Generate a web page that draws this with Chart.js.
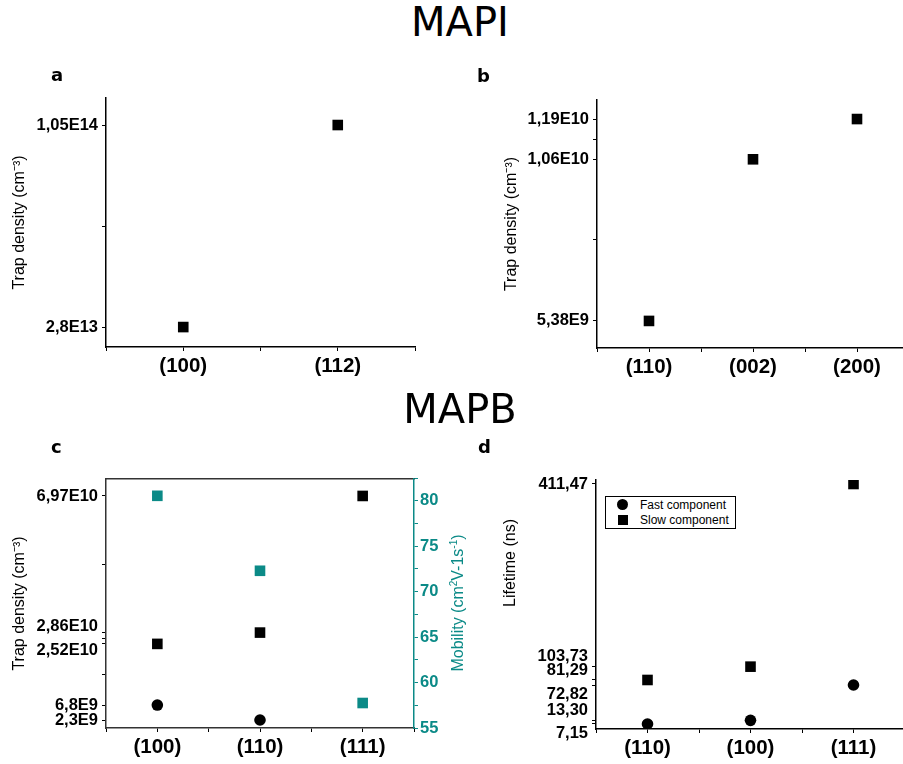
<!DOCTYPE html>
<html>
<head>
<meta charset="utf-8">
<title>MAPI / MAPB</title>
<script src="https://cdn.jsdelivr.net/npm/chart.js@4.4.1/dist/chart.umd.min.js"></script>
<style>
	html, body { margin: 0; padding: 0; background: #fff; }
	body { position: relative; width: 903px; height: 764px; overflow: hidden; font-family: 'Liberation Sans', Arial, sans-serif; }
	canvas { position: absolute; }
	.big { position: absolute; width: 200px; text-align: center; font-family: 'DejaVu Sans', sans-serif; font-size: 40px; line-height: 40px; color: #000; }
	.tag { position: absolute; font-family: 'DejaVu Sans', sans-serif; font-weight: bold; font-size: 18px; line-height: 18px; color: #000; }
	.vtitle { position: absolute; width: 200px; height: 20px; line-height: 20px; text-align: center; font-size: 16px; transform: rotate(-90deg); transform-origin: 50% 50%; white-space: nowrap; }
	#mobTitle { left: 358px; top: 593px; color: #0b8a87; }
	#mobTitle sup { font-size: 10px; line-height: 0; vertical-align: 6px; }
	#lifeTitle { left: 410px; top: 553px; color: #000; }
	#legendD { position: absolute; left: 605px; top: 496px; width: 129px; height: 31px; border: 1px solid #000; background: #fff; font-size: 12px; }
	#legendD .item { position: absolute; left: 0; height: 14px; line-height: 14px; white-space: nowrap; }
	#legendD .mk { position: absolute; left: 11px; background: #000; }
	#legendD .txt { position: absolute; left: 34px; top: 0; }
</style>
</head>
<body>
<canvas id="chartA" width="450" height="335" style="left:0;top:60px"></canvas>
<canvas id="chartB" width="470" height="335" style="left:450px;top:60px"></canvas>
<canvas id="chartC" width="480" height="324" style="left:0;top:440px"></canvas>
<canvas id="chartD" width="450" height="324" style="left:470px;top:440px"></canvas>

<div class="big" style="left:360px;top:2px">MAPI</div>
<div class="big" style="left:360px;top:389px">MAPB</div>
<div class="tag" style="left:51px;top:66px">a</div>
<div class="tag" style="left:477px;top:67px">b</div>
<div class="tag" style="left:51px;top:438px">c</div>
<div class="tag" style="left:478px;top:438px">d</div>
<div class="vtitle" id="mobTitle">Mobility (cm<sup>2</sup>V-1s<sup>-1</sup>)</div>
<div class="vtitle" id="lifeTitle">Lifetime (ns)</div>
<div id="legendD">
	<div class="item" style="top:1px"><span class="mk" style="top:1px;width:11px;height:11px;border-radius:50%"></span><span class="txt">Fast component</span></div>
	<div class="item" style="top:16px"><span class="mk" style="top:2px;left:12px;width:10px;height:10px"></span><span class="txt">Slow component</span></div>
</div>

<script>
// MAPI (a, b) and MAPB (c, d) trap density / mobility / lifetime panels

const AXIS = '#000';
const TEAL = '#0b8a87';

// a: MAPI trap density
const catsA = ['(100)', '(112)'];
const trapA = [2.8e13, 1.05e14];
const tickLabelsA = ['2,8E13', '1,05E14'];
const minorA = [6.65e13];

// b: MAPI trap density
const catsB = ['(110)', '(002)', '(200)'];
const trapB = [5.38e9, 1.06e10, 1.19e10];
const tickLabelsB = ['5,38E9', '1,06E10', '1,19E10'];
const minorB = [8e9, 1.125e10];

// c: MAPB trap density (squares, circles) and mobility
const catsC = ['(100)', '(110)', '(111)'];
const trapSquareC = [2.52e10, 2.86e10, 6.97e10];
const trapCircleC = [6.8e9, 2.3e9, null];
const mobilityC = [80.55, 72.3, 57.75];
const trapTicksC = [2.3e9, 6.8e9, 2.52e10, 2.86e10, 6.97e10];
// the two close labels are pushed apart, as in the original
const trapTickLabelsC = ['2,3E9', '6,8E9', ['', '2,52E10'], ['2,86E10', ''], '6,97E10'];
const trapMinorC = [1.6e10, 2.67e10, 4.9e10];
const mobTicksC = [55, 60, 65, 70, 75, 80];
const mobMinorC = [57.5, 62.5, 67.5, 72.5, 77.5, 82.5];

// d: MAPB lifetimes
const catsD = ['(110)', '(100)', '(111)'];
const fastD = [7.15, 13.30, 72.82];
const slowD = [81.29, 103.73, 411.47];
const lifeTicksD = [7.15, 13.30, 72.82, 81.29, 103.73, 411.47];
// labels nudged up/down like the original to avoid overlapping
const lifeTickLabelsD = [['', '7,15'], ['13,30', ''], ['', '72,82'], ['81,29', ''], ['103,73', ''], '411,47'];

Chart.defaults.font.family = "'Liberation Sans', Arial, sans-serif";
Chart.defaults.color = '#000';
Chart.defaults.animation = false;

function points(vals) {
	return vals.map((y, i) => ({ x: i + 1, y })).filter(p => p.y !== null);
}

function marks(vals, style, color, axis) {
	return {
		data: points(vals),
		showLine: false,
		pointStyle: style,
		pointRadius: style === 'rect' ? 7.5 : 5.8,
		backgroundColor: color,
		borderColor: color,
		borderWidth: 0,
		yAxisID: axis || 'y'
	};
}

function valueAxis(o) {
	const all = o.major.concat(o.minor || []);
	const color = o.color || AXIS;
	return {
		type: 'linear',
		position: o.position || 'left',
		min: o.min,
		max: o.max,
		bounds: 'data',
		afterBuildTicks: s => { s.ticks = all.map(v => ({ value: v })); },
		afterFit: s => { s.width = o.width; },
		border: { display: true, color: o.borderColor || color, width: 1.5 },
		grid: { drawOnChartArea: false, color: color, lineWidth: 1, tickLength: 4 },
		ticks: {
			autoSkip: false,
			padding: o.pad == null ? 4 : o.pad,
			color: color,
			font: { size: 16.5, weight: 'bold', lineHeight: o.lineHeight || 1.2 },
			callback: v => {
				const i = o.major.indexOf(v);
				return i < 0 ? '' : o.labels[i];
			}
		},
		title: o.title
			? { display: true, text: o.title, padding: { top: o.titlePad, bottom: 0 }, font: { size: 16 } }
			: { display: false }
	};
}

function categoryAxis(cats, height, borderColor) {
	const steps = [];
	for (let v = 0.5; v <= cats.length + 0.5; v += 0.5) steps.push(v);
	return {
		type: 'linear',
		position: 'bottom',
		min: 0.5,
		max: cats.length + 0.5,
		bounds: 'data',
		afterBuildTicks: s => { s.ticks = steps.map(v => ({ value: v })); },
		afterFit: s => { s.height = height; },
		border: { display: true, color: borderColor || AXIS, width: 1.5 },
		grid: { drawOnChartArea: false, color: AXIS, lineWidth: 1, tickLength: 4 },
		ticks: {
			autoSkip: false,
			maxRotation: 0,
			padding: 3,
			font: { size: 20.5, weight: 'bold' },
			callback: v => Number.isInteger(v) ? cats[v - 1] : ''
		}
	};
}

function baseOptions(padding, scales) {
	return {
		responsive: false,
		animation: false,
		events: [],
		layout: { padding },
		plugins: { legend: { display: false }, tooltip: { enabled: false } },
		scales
	};
}

new Chart(document.getElementById('chartA'), {
	type: 'scatter',
	data: { datasets: [marks(trapA, 'rect', '#000')] },
	options: baseOptions({ top: 38, right: 35, left: 0, bottom: 0 }, {
		x: categoryAxis(catsA, 48),
		y: valueAxis({
			min: 2.04e13, max: 1.153e14, major: trapA, labels: tickLabelsA, minor: minorA,
			width: 106, title: 'Trap density (cm⁻³)', titlePad: 10
		})
	})
});

new Chart(document.getElementById('chartB'), {
	type: 'scatter',
	data: { datasets: [marks(trapB, 'rect', '#000')] },
	options: baseOptions({ top: 40, right: 11, left: 0, bottom: 0 }, {
		x: categoryAxis(catsB, 47),
		y: valueAxis({
			min: 4.506e9, max: 1.2515e10, major: trapB, labels: tickLabelsB, minor: minorB,
			width: 147, title: 'Trap density (cm⁻³)', titlePad: 52
		})
	})
});

new Chart(document.getElementById('chartC'), {
	type: 'scatter',
	data: {
		datasets: [
			marks(trapSquareC, 'rect', '#000'),
			marks(trapCircleC, 'circle', '#000'),
			marks(mobilityC, 'rect', TEAL, 'y2')
		]
	},
	options: baseOptions({ top: 39, right: 0, left: 0, bottom: 0 }, {
		x: categoryAxis(catsC, 36, '#333'),
		xTop: {
			type: 'linear', position: 'top', min: 0.5, max: 3.5,
			border: { display: true, color: '#333', width: 1.5 },
			grid: { drawOnChartArea: false, drawTicks: false },
			ticks: { display: false },
			afterFit: s => { s.height = 0; }
		},
		y: valueAxis({
			min: -1e8, max: 7.48e10, major: trapTicksC, labels: trapTickLabelsC, minor: trapMinorC,
			width: 106, title: 'Trap density (cm⁻³)', titlePad: 10, borderColor: '#333', lineHeight: 0.8
		}),
		y2: valueAxis({
			position: 'right', min: 55, max: 82.4, major: mobTicksC, labels: mobTicksC.map(String),
			minor: mobMinorC, width: 66, color: TEAL, pad: 2
		})
	})
});

new Chart(document.getElementById('chartD'), {
	type: 'scatter',
	data: {
		datasets: [
			marks(fastD, 'circle', '#000'),
			marks(slowD, 'rect', '#000')
		]
	},
	options: baseOptions({ top: 40, right: 15, left: 0, bottom: 0 }, {
		x: categoryAxis(catsD, 35),
		y: valueAxis({
			min: -1.3, max: 418.2, major: lifeTicksD, labels: lifeTickLabelsD,
			width: 126
		})
	})
});
</script>
</body>
</html>
